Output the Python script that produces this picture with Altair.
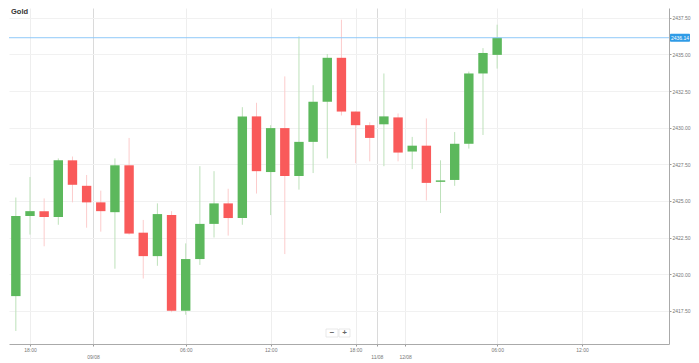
import altair as alt
import pandas as pd

# ---- data (hourly candles) ----
candle_idx = list(range(35))
opens = [2418.50, 2423.97, 2424.30, 2423.90, 2427.77, 2426.03, 2424.90, 2424.23, 2427.43, 2422.83,
         2421.23, 2424.03, 2417.50, 2421.03, 2423.43, 2424.83, 2423.83, 2430.77, 2426.97, 2429.97,
         2426.70, 2429.03, 2431.77, 2434.77, 2431.10, 2430.17, 2430.23, 2430.70, 2428.37, 2428.77,
         2426.30, 2426.43, 2428.90, 2433.70, 2434.97]
highs = [2425.23, 2426.63, 2425.17, 2427.90, 2428.03, 2426.77, 2425.70, 2427.90, 2429.30, 2423.70,
         2424.83, 2424.30, 2422.10, 2427.37, 2427.03, 2425.83, 2431.40, 2431.70, 2430.17, 2433.50,
         2436.23, 2432.90, 2435.03, 2437.37, 2431.10, 2430.37, 2433.70, 2430.97, 2429.37, 2430.63,
         2427.77, 2429.70, 2433.83, 2435.43, 2437.03]
lows = [2416.12, 2422.70, 2421.90, 2423.37, 2424.90, 2423.17, 2422.90, 2420.37, 2422.70, 2419.70,
        2420.57, 2417.40, 2417.23, 2420.63, 2422.50, 2422.63, 2423.37, 2425.50, 2424.03, 2421.37,
        2425.77, 2426.90, 2427.90, 2430.83, 2427.57, 2427.70, 2427.37, 2427.70, 2427.17, 2425.03,
        2424.17, 2426.03, 2428.57, 2429.50, 2434.03]
closes = [2423.97, 2424.30, 2423.90, 2427.77, 2426.10, 2424.90, 2424.30, 2427.43, 2422.77, 2421.23,
          2424.10, 2417.50, 2421.03, 2423.43, 2424.83, 2423.83, 2430.77, 2427.03, 2429.97, 2426.70,
          2429.03, 2431.77, 2434.77, 2431.10, 2430.17, 2429.30, 2430.77, 2428.30, 2428.77, 2426.23,
          2426.40, 2428.90, 2433.70, 2435.10, 2436.14]

x_tick_values = [1, 5.45, 12, 18, 24, 25.5, 27.5, 34, 40]
x_tick_labels = ["18:00", "09/08", "06:00", "12:00", "18:00", "11/08", "12/08", "06:00", "12:00"]
x_tick_is_day = [False, True, False, False, False, True, True, False, False]
y_tick_values = [2417.5, 2420.0, 2422.5, 2425.0, 2427.5, 2430.0, 2432.5, 2435.0, 2437.5]
last_price = 2436.14
chart_title = "Gold"
zoom_labels = ["\u2212", "+"]

# ---- build ----
W, H = 660, 336
FONT = "Liberation Sans"

df = pd.DataFrame({"i": candle_idx, "open": opens, "high": highs, "low": lows, "close": closes})

xscale = alt.Scale(domain=[-0.483, 46.14], nice=False, zero=False, padding=0)
yscale = alt.Scale(domain=[2415.23, 2438.17], nice=False, zero=False, padding=0)

parts = []
for v, t, d in zip(x_tick_values, x_tick_labels, x_tick_is_day):
    lab = f"['', '{t}']" if d else f"'{t}'"
    parts.append(f"abs(datum.value - {v}) < 0.01 ? {lab} : ")
label_expr = "".join(parts) + "''"
dark_days = [v for v, t, d in zip(x_tick_values, x_tick_labels, x_tick_is_day) if d and t != "12/08"]
day_test = " || ".join(f"abs(datum.value - {v}) < 0.01" for v in dark_days)

xaxis = alt.Axis(values=x_tick_values, labelExpr=label_expr, grid=True,
                 gridColor={"condition": {"test": day_test, "value": "#dadada"}, "value": "#eeeeee"},
                 tickSize=2, tickColor="#999999", domainColor="#aaaaaa", labelFontSize=5,
                 labelColor="#777777", labelFont=FONT, labelPadding=1, labelOverlap=False,
                 labelFlush=False, labelLineHeight=7, title=None)
yaxis = alt.Axis(orient="right", values=y_tick_values, format=".2f", grid=True, gridColor="#f1f1f1",
                 tickSize=2, tickColor="#999999", domainColor="#aaaaaa", labelFontSize=5,
                 labelColor="#777777", labelFont=FONT, labelPadding=1, labelFlush=False, title=None)

up = "datum.close >= datum.open"

wicks = alt.Chart(df).mark_rule(strokeWidth=1).encode(
    x=alt.X("i:Q", scale=xscale, axis=xaxis),
    y=alt.Y("low:Q", scale=yscale, axis=yaxis),
    y2="high:Q",
    color=alt.condition(up, alt.value("#bde1ba"), alt.value("#fccccc")),
)
bodies = alt.Chart(df).mark_bar(size=9.4).encode(
    x=alt.X("i:Q", scale=xscale, axis=xaxis),
    y=alt.Y("open:Q", scale=yscale, axis=yaxis),
    y2="close:Q",
    color=alt.condition(up, alt.value("#5cb85c"), alt.value("#f95a5a")),
)

pdf = pd.DataFrame({"p": [last_price], "lo": [last_price - 0.28], "hi": [last_price + 0.28],
                    "label": [f"{last_price:.2f}"]})
price_line = alt.Chart(pdf).mark_rule(color="#90caf9", strokeWidth=1).encode(
    y=alt.Y("p:Q", scale=yscale, axis=yaxis))
price_box = alt.Chart(pdf).mark_rect(color="#2f9be6", cornerRadius=1).encode(
    x=alt.value(W + 1), x2=alt.value(W + 21),
    y=alt.Y("hi:Q", scale=yscale, axis=yaxis), y2="lo:Q")
price_text = alt.Chart(pdf).mark_text(color="white", fontSize=5, font=FONT).encode(
    x=alt.value(W + 11), y=alt.Y("p:Q", scale=yscale, axis=yaxis), text="label:N")

title_mark = alt.Chart(pd.DataFrame({"t": [chart_title]})).mark_text(
    align="left", baseline="middle", fontWeight="bold", fontSize=7.5, font=FONT, color="#333333"
).encode(x=alt.value(2), y=alt.value(4), text="t:N")

layers = [wicks, bodies, price_line, price_box, price_text, title_mark]

zx = [(317, 329), (330, 341)]
for (a, b), lbl in zip(zx, zoom_labels):
    layers.append(alt.Chart(pd.DataFrame({"k": [lbl]})).mark_rect(
        fill="white", stroke="#e0e0e0", strokeWidth=0.7).encode(
        x=alt.value(a), x2=alt.value(b), y=alt.value(321), y2=alt.value(329)))
    layers.append(alt.Chart(pd.DataFrame({"k": [lbl]})).mark_text(
        fontSize=8, fontWeight="bold", color="#666666", font=FONT, baseline="middle").encode(
        x=alt.value((a + b) / 2), y=alt.value(325), text="k:N"))

chart = alt.layer(*layers).properties(width=W, height=H, padding=0).configure(
    background="white").configure_view(stroke=None)

chart.save("out.html", embed_options={"renderer": "svg", "actions": False})
